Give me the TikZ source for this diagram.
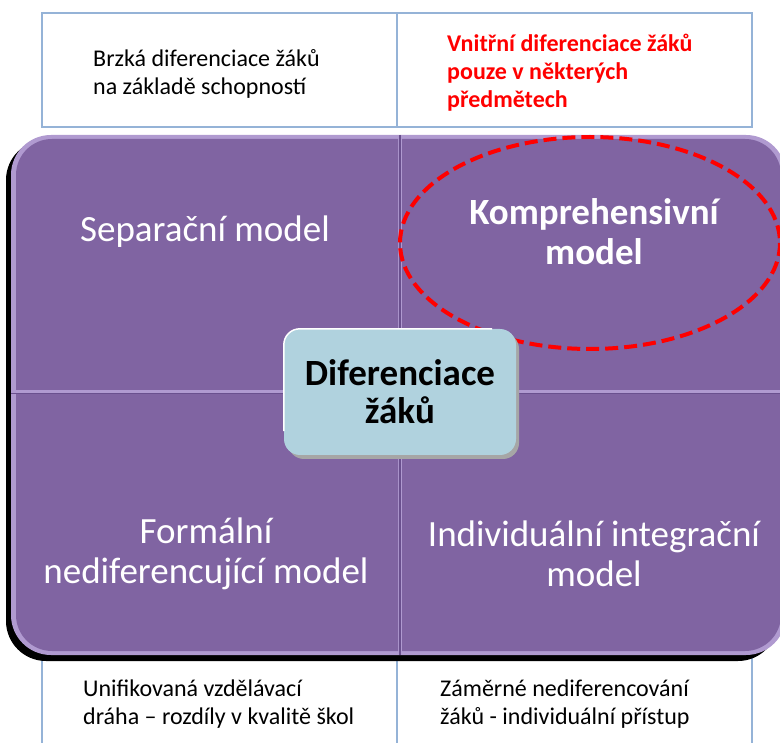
\documentclass[tikz,border=0pt]{standalone}
\usepackage{fontspec}
\setmainfont{Carlito}
\usetikzlibrary{shapes,positioning}

\definecolor{quadpurple}{HTML}{8064A2}
\definecolor{bevelpurple}{HTML}{B09AD0}
\definecolor{darkpurple}{HTML}{6A508E}
\definecolor{tableblue}{HTML}{95B3D7}
\definecolor{centerblue}{HTML}{B0D2DE}

\tikzset{
  tableline/.style={draw=tableblue, line width=2pt},
  smalltext/.style={anchor=west, align=left, inner sep=0pt, font=\fontsize{24}{28}\selectfont},
  quadtext/.style={align=center, text=white, font=\fontsize{37}{40}\selectfont},
  centerbox/.style={fill=centerblue, rounded corners=16pt,
    minimum width=232pt, minimum height=126pt, align=center,
    font=\fontsize{37}{38}\selectfont\bfseries},
  reddash/.style={draw=red, line width=4pt, dash pattern=on 13pt off 6pt}
}

\begin{document}
\begin{tikzpicture}[x=1pt,y=-1pt]
% Place nodes
\useasboundingbox (0,0) rectangle (780,743);
\fill[white] (0,0) rectangle (780,743);

% tables top and bottom
\draw[tableline] (42,13) rectangle (752,127);
\draw[tableline] (397,13) -- (397,127);
\draw[tableline] (42,745) -- (42,657) -- (752,657) -- (752,745);
\draw[tableline] (397,657) -- (397,745);

% block with four quadrants
\fill[black, rounded corners=40pt] (6,140) rectangle (778,661);
\fill[bevelpurple, rounded corners=40pt] (11,135) rectangle (786,655);
\begin{scope}
\clip (0,0) rectangle (398,390);
\fill[quadpurple, rounded corners=36pt] (16,139) rectangle (781,651);
\end{scope}
\begin{scope}
\clip (402,0) rectangle (800,390);
\fill[quadpurple, rounded corners=36pt] (16,139) rectangle (781,651);
\end{scope}
\begin{scope}
\clip (0,395) rectangle (398,800);
\fill[quadpurple, rounded corners=36pt] (16,139) rectangle (781,651);
\end{scope}
\begin{scope}
\clip (402,395) rectangle (800,800);
\fill[quadpurple, rounded corners=36pt] (16,139) rectangle (781,651);
\end{scope}
\draw[darkpurple, line width=1.2pt] (400,135) -- (400,655);
\draw[darkpurple, line width=0.8pt] (11,393) -- (786,393);

% texts
\node[smalltext] (brzka) at (93,74) {Brzká diferenciace žáků\\na základě schopností};
\node[smalltext, text=red, font=\fontsize{24}{28}\selectfont\bfseries] (vnitrni) at (447,73)
  {Vnitřní diferenciace žáků\\pouze v některých\\předmětech};
\node[smalltext] (unif) at (83,704) {Unifikovaná vzdělávací\\dráha – rozdíly v kvalitě škol};
\node[smalltext] (zamerne) at (440,704) {Záměrné nediferencování\\žáků - individuální přístup};

\node[quadtext] (separ) at (205,232) {Separační model};
\node[quadtext, font=\fontsize{37}{40}\selectfont\bfseries] (kompr) at (594,232) {Komprehensivní\\model};
\node[quadtext] (formal) at (206,554) {Formální\\nediferencující model};
\node[quadtext] (indiv) at (594,554) {Individuální integrační\\model};

\draw[reddash] (590,243) ellipse [x radius=190, y radius=106];

% center box with light rim
\fill[black!35, rounded corners=16pt] (288,333) rectangle (519,459);
\node[centerbox] (diff) at (400,392) {Diferenciace\\žáků};
\draw[white, line width=1.5pt, rounded corners=16pt]
  ([yshift=24pt]diff.south west) -- (diff.north west) -- ([xshift=-24pt]diff.north east);

\end{tikzpicture}
\end{document}
